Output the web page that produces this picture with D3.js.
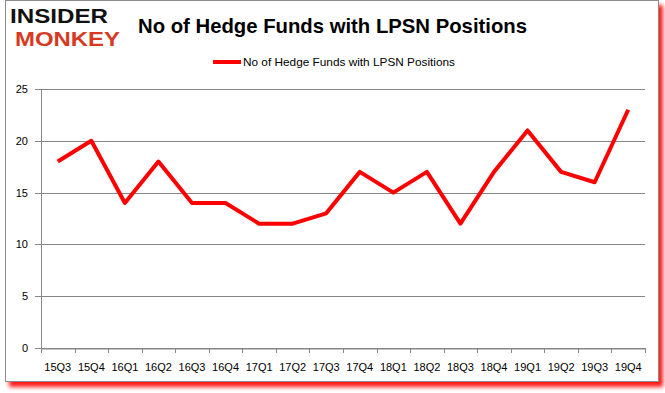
<!DOCTYPE html>
<html>
<head>
<meta charset="utf-8">
<title>LPSN hedge funds</title>
<script src="https://d3js.org/d3.v7.min.js"></script>
<style>
  body { margin:0; background:#fff; }
  text { font-family: "Liberation Sans", Arial, sans-serif; }
</style>
</head>
<body>
<div id="chart"></div>
<script>
var quarters = ["15Q3","15Q4","16Q1","16Q2","16Q3","16Q4","17Q1","17Q2","17Q3","17Q4",
                "18Q1","18Q2","18Q3","18Q4","19Q1","19Q2","19Q3","19Q4"];
var funds = [18,20,14,18,14,14,12,12,13,17,15,17,12,17,21,17,16,23];
var yTicks = [0,5,10,15,20,25];
var seriesName = "No of Hedge Funds with LPSN Positions";

var W = 665, H = 393;
var plotL = 41, plotR = 645, plotT = 89, plotB = 348;

var svg = d3.select("#chart").append("svg")
    .attr("width", W).attr("height", H);

var defs = svg.append("defs");
var f = defs.append("filter").attr("id","shadow")
    .attr("x","-5%").attr("y","-5%").attr("width","115%").attr("height","115%");
f.append("feDropShadow").attr("dx",4).attr("dy",5).attr("stdDeviation",2)
    .attr("flood-color","#ff0000").attr("flood-opacity",0.9);

// frame
svg.append("rect")
    .attr("x",5.5).attr("y",0.5).attr("width",653).attr("height",381)
    .attr("fill","#fff").attr("stroke","#8c8c8c").attr("stroke-width",1)
    .attr("filter","url(#shadow)");

var x = d3.scaleBand().domain(quarters).range([plotL, plotR]);
var y = d3.scaleLinear().domain([0,25]).range([plotB, plotT]);

// gridlines
svg.append("g")
    .selectAll("line").data(yTicks).join("line")
    .attr("x1", plotL - 6).attr("x2", plotR)
    .attr("y1", d => Math.round(y(d)) + 0.5).attr("y2", d => Math.round(y(d)) + 0.5)
    .attr("stroke","#868686").attr("stroke-width",1);

svg.append("g")
    .selectAll("text").data(yTicks).join("text")
    .attr("x", 28).attr("y", d => y(d) + 4)
    .attr("text-anchor","end")
    .attr("font-size", 11).attr("fill","#000")
    .text(d => d);

// y axis line
svg.append("line")
    .attr("x1", plotL + 0.5).attr("x2", plotL + 0.5)
    .attr("y1", plotT).attr("y2", plotB)
    .attr("stroke","#868686");

// x axis
var xAxis = d3.axisBottom(x).tickSize(0).tickSizeOuter(0);
var gx = svg.append("g").attr("transform","translate(0," + (Math.round(plotB) + 0.5) + ")").call(xAxis);
gx.select(".domain").attr("stroke","#868686");
gx.selectAll("text").attr("dy", 0).attr("y", 22).attr("font-size", 11)
    .attr("font-family", "Liberation Sans, Arial, sans-serif").attr("fill","#000");

var tickPos = quarters.map(q => x(q)).concat([plotR]);
svg.append("g").selectAll("line").data(tickPos).join("line")
    .attr("x1", d => Math.round(d) + 0.5).attr("x2", d => Math.round(d) + 0.5)
    .attr("y1", plotB).attr("y2", plotB + 5)
    .attr("stroke","#868686");

// series line
var line = d3.line()
    .x((d,i) => x(quarters[i]) + x.bandwidth()/2)
    .y(d => y(d));
svg.append("path").datum(funds)
    .attr("d", line)
    .attr("fill","none").attr("stroke","#ff0000")
    .attr("stroke-width",4).attr("stroke-linejoin","round");

// title
svg.append("text")
    .attr("x", 138).attr("y", 33)
    .attr("font-size", 21).attr("font-weight","bold")
    .attr("textLength", 389).attr("lengthAdjust","spacingAndGlyphs")
    .attr("font-family","'Open Sans', 'Liberation Sans', sans-serif")
    .text(seriesName);

// legend
svg.append("line")
    .attr("x1", 213).attr("x2", 241).attr("y1", 62).attr("y2", 62)
    .attr("stroke","#ff0000").attr("stroke-width",4);
svg.append("text")
    .attr("x", 243).attr("y", 66)
    .attr("font-size", 11).attr("textLength", 212).attr("lengthAdjust","spacingAndGlyphs")
    .text(seriesName);

// logo
svg.append("text")
    .attr("x", 10).attr("y", 23)
    .attr("font-size", 20).attr("font-weight","bold")
    .attr("textLength", 98).attr("lengthAdjust","spacingAndGlyphs")
    .attr("font-family","'DejaVu Sans', sans-serif")
    .attr("fill","#111").text("INSIDER");
svg.append("text")
    .attr("x", 15).attr("y", 46)
    .attr("font-size", 20).attr("font-weight","bold")
    .attr("textLength", 105).attr("lengthAdjust","spacingAndGlyphs")
    .attr("font-family","'DejaVu Sans', sans-serif")
    .attr("fill","#d63a22").text("MONKEY");
</script>
</body>
</html>
